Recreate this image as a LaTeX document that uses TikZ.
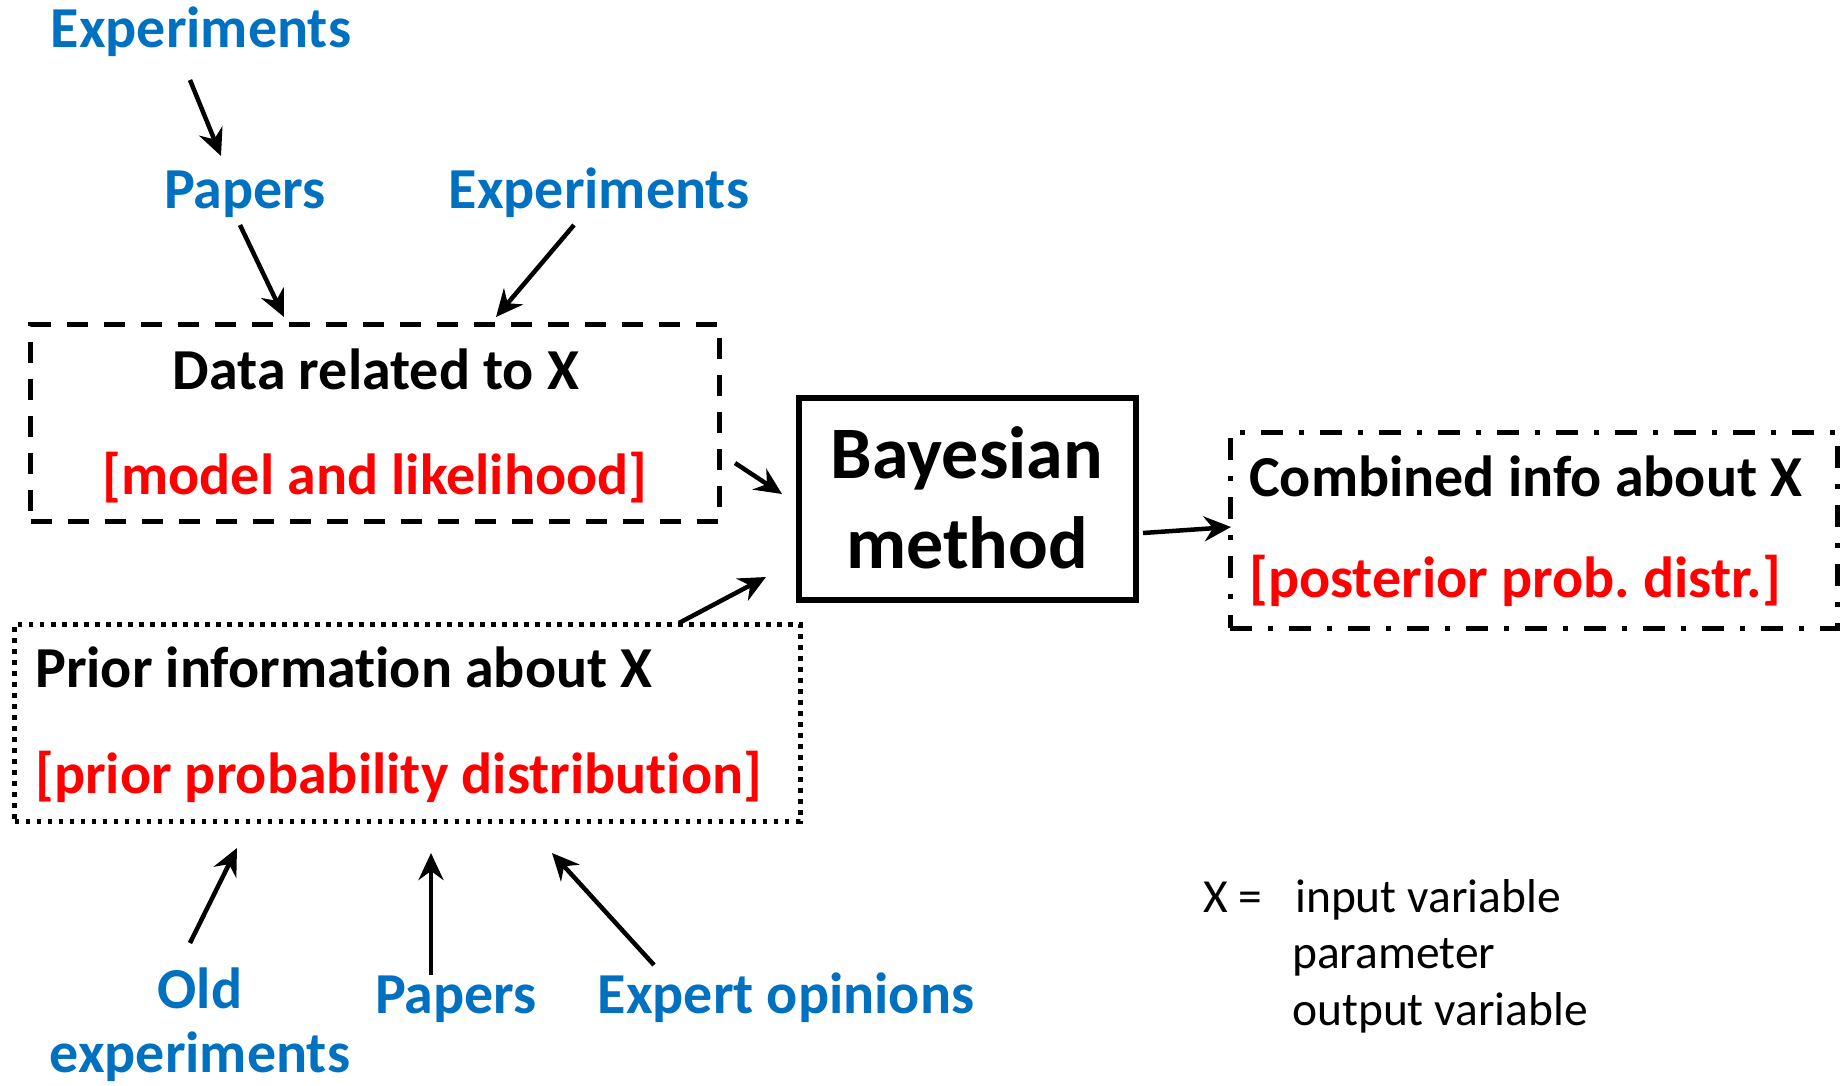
\documentclass[tikz,border=0pt]{standalone}
\usepackage{fontspec}
\setmainfont{Carlito}[Ligatures=NoCommon]
\usetikzlibrary{arrows.meta}
\definecolor{lblblue}{HTML}{0070C0}
\definecolor{lblred}{HTML}{FF0000}
\frenchspacing
\tikzset{
  srclabel/.style={inner sep=0pt, anchor=base, text=lblblue, font=\fontsize{58}{64}\selectfont\bfseries},
  boxtitle/.style={inner sep=0pt, font=\fontsize{58}{64}\selectfont\bfseries},
  boxsub/.style={inner sep=0pt, text=lblred, font=\fontsize{58}{64}\selectfont\bfseries},
  legend/.style={inner sep=0pt, anchor=base west, font=\fontsize{47.5}{56}\selectfont},
  dashbox/.style={draw, line width=5pt, dash pattern=on 21pt off 16pt, inner sep=0pt},
  dotbox/.style={draw, line width=5pt, dash pattern=on 4.5pt off 6.5pt, inner sep=0pt},
  dashdotbox/.style={draw, line width=5pt, dash pattern=on 22pt off 16pt on 5pt off 16pt, inner sep=0pt},
  solidbox/.style={draw, line width=5.5pt, inner sep=0pt},
  flow/.style={line width=4.5pt, -{Stealth[length=27pt, width=25pt, inset=9pt]}},
}
\begin{document}
\begin{tikzpicture}[x=1pt, y=-1pt]
\useasboundingbox (0,0) rectangle (1841,1086);

% boxes
\node[dashbox, minimum width=688.5, minimum height=197] (data) at (374.75,423) {};
\node[solidbox, minimum width=337, minimum height=202] (bayes) at (967.5,499) {};
\node[dashdotbox, minimum width=607, minimum height=196] (comb) at (1533.5,530) {};
\node[dotbox, minimum width=785.5, minimum height=197] (prior) at (407.25,722.5) {};

% box texts
\node[boxtitle, anchor=base] (datat) at (376,389) {Data related to X};
\node[boxsub, anchor=base] (datas) at (375,494) {[model and likelihood]};
\node[inner sep=0pt, anchor=base, font=\fontsize{74}{88}\selectfont\bfseries] (bayes1) at (967,478) {Bayesian};
\node[inner sep=0pt, anchor=base, font=\fontsize{74}{88}\selectfont\bfseries] (bayes2) at (967,568) {method};
\node[boxtitle, anchor=base west] (combt) at (1249,496) {Combined info about X};
\node[boxsub, anchor=base west] (combs) at (1249,597) {[posterior prob. distr.]};
\node[boxtitle, anchor=base west] (priort) at (35,687) {Prior information about X};
\node[boxsub, anchor=base west] (priors) at (35,793) {[prior probability distribution]};

% source labels
\node[srclabel] (exp1) at (201,48) {Experiments};
\node[srclabel] (pap1) at (245,208) {Papers};
\node[srclabel] (exp2) at (599,208) {Experiments};
\node[srclabel] (old1) at (200,1008) {Old};
\node[srclabel] (old2) at (200,1072) {experiments};
\node[srclabel] (pap2) at (456,1013) {Papers};
\node[srclabel] (expert) at (786,1013) {Expert opinions};

% legend
\node[legend] (lx) at (1203,912) {X =};
\node[legend] (l1) at (1295,912) {input variable};
\node[legend] (l2) at (1292,968) {parameter};
\node[legend] (l3) at (1292,1025) {output variable};

% connector end points
\coordinate (a1s) at (190,80);   \coordinate (a1e) at (221,156);
\coordinate (a2s) at (240,225);  \coordinate (a2e) at (284,317);
\coordinate (a3s) at (574,225);  \coordinate (a3e) at (496,317);
\coordinate (a4s) at (735,463);  \coordinate (a4e) at (782,494);
\coordinate (a5s) at (679,623);  \coordinate (a5e) at (766,577);
\coordinate (a6s) at (1143,533); \coordinate (a6e) at (1231,527);
\coordinate (a7s) at (190,943);  \coordinate (a7e) at (237,848);
\coordinate (a8s) at (431,975);  \coordinate (a8e) at (431,853);
\coordinate (a9s) at (654,965);  \coordinate (a9e) at (552,853);

\draw[flow] (a1s) -- (a1e);
\draw[flow] (a2s) -- (a2e);
\draw[flow] (a3s) -- (a3e);
\draw[flow] (a4s) -- (a4e);
\draw[flow] (a5s) -- (a5e);
\draw[flow] (a6s) -- (a6e);
\draw[flow] (a7s) -- (a7e);
\draw[flow] (a8s) -- (a8e);
\draw[flow] (a9s) -- (a9e);
\end{tikzpicture}
\end{document}
